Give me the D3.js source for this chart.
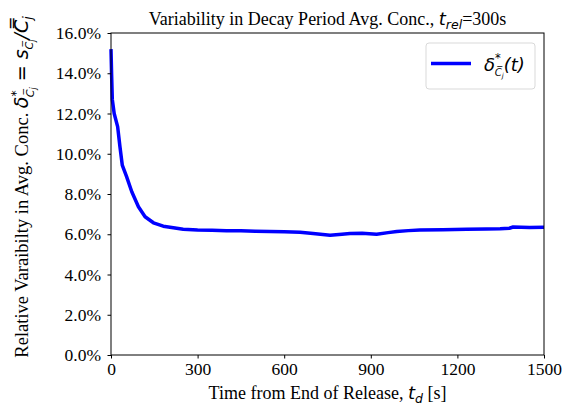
<!DOCTYPE html>
<html>
<head>
<meta charset="utf-8">
<script src="https://cdn.jsdelivr.net/npm/d3@7"></script>
<style>
  body { margin: 0; background: #fff; }
  svg { display: block; }
</style>
</head>
<body>
<svg id="chart" width="568" height="406"></svg>
<script>
// time after end of release [s]
const timeSec = [0, 2, 4.5, 11, 23, 31, 39, 54, 72, 95, 118, 147, 181, 216, 250, 300, 350, 400, 450, 500,
  550, 600, 655, 700, 759, 800, 828, 870, 920, 960, 990, 1030, 1070, 1150, 1232, 1300, 1348, 1380, 1393, 1450, 1500];
// relative variability [%]
const relVar = [15.2, 14.0, 12.7, 12.0, 11.35, 10.35, 9.44, 8.86, 8.11, 7.37, 6.87, 6.57, 6.40, 6.32, 6.25, 6.21, 6.20, 6.18, 6.17, 6.15,
  6.14, 6.12, 6.10, 6.04, 5.95, 6.00, 6.04, 6.05, 6.00, 6.08, 6.14, 6.18, 6.21, 6.22, 6.25, 6.26, 6.27, 6.30, 6.36, 6.34, 6.35];

const xTicks = [0, 300, 600, 900, 1200, 1500];
const yTicks = [0, 2, 4, 6, 8, 10, 12, 14, 16];

const SERIF = "'Liberation Serif', 'Times New Roman', Times, serif";
const MATH = "'DejaVu Sans', sans-serif";

const points = timeSec.map((t, i) => ({ t: t, v: relVar[i] }));

const svg = d3.select("#chart");
const margin = { left: 111, right: 24, top: 33, bottom: 51 };
const width = 568, height = 406;

const xScale = d3.scaleLinear().domain([0, 1500]).range([margin.left, width - margin.right]);
const yScale = d3.scaleLinear().domain([0, 16]).range([height - margin.bottom, margin.top]);

// data line
svg.append("path")
    .datum(points)
    .attr("fill", "none")
    .attr("stroke", "#0000ff")
    .attr("stroke-width", 3.5)
    .attr("stroke-linejoin", "round")
    .attr("d", d3.line().x(d => xScale(d.t)).y(d => yScale(d.v)));

// frame
svg.append("rect")
    .attr("x", xScale(0)).attr("y", yScale(16))
    .attr("width", xScale(1500) - xScale(0))
    .attr("height", yScale(0) - yScale(16))
    .attr("fill", "none")
    .attr("stroke", "#000")
    .attr("stroke-width", 1);

const xAxis = svg.append("g")
    .attr("transform", "translate(0," + yScale(0) + ")")
    .call(d3.axisBottom(xScale).tickValues(xTicks).tickSize(3.5).tickPadding(4.5).tickFormat(d3.format("d")));

const yAxis = svg.append("g")
    .attr("transform", "translate(" + xScale(0) + ",0)")
    .call(d3.axisLeft(yScale).tickValues(yTicks).tickSize(3.5).tickPadding(6.5).tickFormat(d => d.toFixed(1) + "%"));

[xAxis, yAxis].forEach(ax => {
    ax.attr("font-family", SERIF).attr("font-size", 17.5);
    ax.select(".domain").remove();
    ax.selectAll("text").attr("fill", "#000");
    ax.selectAll("line").attr("stroke", "#000");
});

function mathSpan(sel, txt, size, dy, dx) {
    const s = sel.append("tspan")
        .attr("font-family", MATH)
        .attr("font-style", "italic")
        .text(txt);
    if (size) s.attr("font-size", size);
    if (dy) s.attr("dy", dy);
    if (dx) s.attr("dx", dx);
    return s;
}

// title
const title = svg.append("text")
    .attr("font-family", SERIF)
    .attr("x", (xScale(0) + xScale(1500)) / 2)
    .attr("y", 25)
    .attr("text-anchor", "middle")
    .attr("font-size", 18);
title.append("tspan").text("Variability in Decay Period Avg. Conc., ");
mathSpan(title, "t", 18);
mathSpan(title, "rel", 12.5, 3.5);
title.append("tspan").attr("dy", -3.5).text("=300s");

// x label
const xLabel = svg.append("text")
    .attr("font-family", SERIF)
    .attr("x", (xScale(0) + xScale(1500)) / 2)
    .attr("y", 399)
    .attr("text-anchor", "middle")
    .attr("font-size", 18);
xLabel.append("tspan").text("Time from End of Release, ");
mathSpan(xLabel, "t", 18);
mathSpan(xLabel, "d", 12.5, 3.5);
xLabel.append("tspan").attr("dy", -3.5).text(" [s]");

// y label
const yLabel = svg.append("text")
    .attr("font-family", SERIF)
    .attr("transform", "translate(28,187) rotate(-90)")
    .attr("text-anchor", "middle")
    .attr("font-size", 18.5);
yLabel.append("tspan").text("Relative Varaibilty in Avg. Conc. ");
mathSpan(yLabel, "δ", 19);
mathSpan(yLabel, "*", 12.5, -8);
mathSpan(yLabel, "C\u0305", 11, 13.5, -7);
mathSpan(yLabel, "j", 8, 2);
mathSpan(yLabel, " = ", 19, -7.5).attr("font-style", "normal");
mathSpan(yLabel, "s", 19);
mathSpan(yLabel, "C\u0305", 11, 4.5);
mathSpan(yLabel, "j", 8, 2);
mathSpan(yLabel, "/C\u033F", 19, -6.5);
mathSpan(yLabel, "j", 12.5, 3.5);

// legend
const legend = svg.append("g").attr("transform", "translate(426,43)");
legend.append("rect")
    .attr("width", 109).attr("height", 46)
    .attr("rx", 3)
    .attr("fill", "#fff")
    .attr("fill-opacity", 0.8)
    .attr("stroke", "#d9d9d9");
legend.append("line")
    .attr("x1", 5).attr("x2", 45)
    .attr("y1", 20.5).attr("y2", 20.5)
    .attr("stroke", "#0000ff")
    .attr("stroke-width", 3.5);
const legText = legend.append("text")
    .attr("x", 58).attr("y", 28)
    .attr("font-size", 18);
mathSpan(legText, "δ", 18);
mathSpan(legText, "*", 11.5, -9);
mathSpan(legText, "C\u0305", 10, 14, -6);
mathSpan(legText, "j", 7, 2);
mathSpan(legText, "(t)", 18, -7);
</script>
</body>
</html>
